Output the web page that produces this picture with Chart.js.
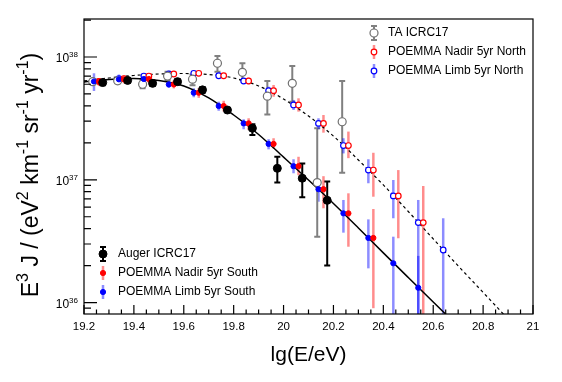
<!DOCTYPE html>
<html>
<head>
<meta charset="utf-8">
<script src="https://cdn.jsdelivr.net/npm/chart.js@4.4.0/dist/chart.umd.min.js"></script>
<style>
  html, body { margin: 0; padding: 0; background: #fff; }
</style>
</head>
<body>
<canvas id="myChart" width="562" height="382"></canvas>
<script>
// Auger ICRC17
var augerE  = [19.275, 19.375, 19.475, 19.575, 19.675, 19.775, 19.875, 19.975, 20.075, 20.175];
var augerJ  = [6.2e37, 6.45e37, 6.1e37, 6.3e37, 5.4e37, 3.7e37, 2.63e37, 1.24e37, 1.03e37, 6.8e36];
var augerLo = [5.9e37, 6.15e37, 5.8e37, 6.0e37, 5.1e37, 3.55e37, 2.32e37, 9.5e36, 7.2e36, 2.0e36];
var augerHi = [6.5e37, 6.75e37, 6.4e37, 6.6e37, 5.7e37, 3.85e37, 2.83e37, 1.54e37, 1.36e37, 9.7e36];

// TA ICRC17
var taE  = [19.235, 19.335, 19.435, 19.535, 19.635, 19.735, 19.835, 19.935, 20.035, 20.135, 20.235];
var taJ  = [6.3e37, 6.4e37, 6.0e37, 7.0e37, 6.6e37, 8.9e37, 7.5e37, 4.8e37, 6.1e37, 9.5e36, 2.97e37];
var taLo = [6.0e37, 6.1e37, 5.57e37, 6.5e37, 5.9e37, 7.6e37, 6.5e37, 3.41e37, 4.33e37, 3.44e36, 1.14e37];
var taHi = [6.6e37, 6.7e37, 6.49e37, 7.6e37, 7.2e37, 1.02e38, 8.89e37, 6.38e37, 8.45e37, 2.63e37, 6.38e37];

// POEMMA Limb 5yr South
var limbSE  = [19.24, 19.34, 19.44, 19.54, 19.64, 19.74, 19.84, 19.94, 20.04, 20.14, 20.24, 20.34, 20.44, 20.54];
var limbSJ  = [6.32e37, 6.58e37, 6.62e37, 5.98e37, 5.12e37, 3.99e37, 2.88e37, 1.96e37, 1.29e37, 8.38e36, 5.33e36, 3.36e36, 2.09e36, 1.32e36];
var limbSLo = [5.29e37, 6.0e37, 6.1e37, 5.6e37, 4.7e37, 3.65e37, 2.58e37, 1.77e37, 1.13e37, 6.63e36, 3.71e36, 1.9e36, 5e35, 5e35];
var limbSHi = [7.37e37, 7.2e37, 7.2e37, 6.4e37, 5.56e37, 4.33e37, 3.11e37, 2.14e37, 1.47e37, 8.79e36, 6.85e36, 4.76e36, 3.44e36, 2.4e36];

// POEMMA Nadir 5yr South
var nadirSE  = [19.26, 19.36, 19.46, 19.56, 19.66, 19.76, 19.86, 19.96, 20.06, 20.16, 20.26, 20.36];
var nadirSJ  = [6.32e37, 6.58e37, 6.62e37, 5.98e37, 5.12e37, 3.99e37, 2.88e37, 1.96e37, 1.29e37, 8.38e36, 5.33e36, 3.36e36];
var nadirSLo = [5.8e37, 6.1e37, 6.15e37, 5.55e37, 4.65e37, 3.6e37, 2.54e37, 1.8e37, 1.09e37, 5.86e36, 2.85e36, 9.0e35];
var nadirSHi = [6.75e37, 7.1e37, 7.1e37, 6.45e37, 5.6e37, 4.4e37, 3.17e37, 2.18e37, 1.54e37, 1.07e37, 7.76e36, 5.78e36];

// POEMMA Limb 5yr North
var limbNE  = [19.24, 19.34, 19.44, 19.54, 19.64, 19.74, 19.84, 19.94, 20.04, 20.14, 20.24, 20.34, 20.44, 20.54, 20.64];
var limbNJ  = [6.32e37, 6.68e37, 7.0e37, 7.27e37, 7.37e37, 7.04e37, 6.38e37, 5.32e37, 4.07e37, 2.88e37, 1.9e37, 1.2e37, 7.39e36, 4.48e36, 2.68e36];
var limbNLo = [6.0e37, 6.4e37, 6.75e37, 7.0e37, 7.1e37, 6.75e37, 6.1e37, 4.91e37, 3.7e37, 2.58e37, 1.64e37, 9.37e36, 4.86e36, 5e35, 5e35];
var limbNHi = [6.65e37, 6.95e37, 7.25e37, 7.55e37, 7.65e37, 7.35e37, 6.7e37, 5.73e37, 4.47e37, 3.17e37, 2.18e37, 1.47e37, 9.96e36, 6.85e36, 4.86e36];

// POEMMA Nadir 5yr North
var nadirNE  = [19.26, 19.36, 19.46, 19.56, 19.66, 19.76, 19.86, 19.96, 20.06, 20.16, 20.26, 20.36, 20.46, 20.56];
var nadirNJ  = [6.32e37, 6.68e37, 7.0e37, 7.27e37, 7.37e37, 7.04e37, 6.38e37, 5.32e37, 4.07e37, 2.88e37, 1.9e37, 1.2e37, 7.39e36, 4.48e36];
var nadirNLo = [6.0e37, 6.35e37, 6.7e37, 6.95e37, 7.05e37, 6.7e37, 6.0e37, 4.75e37, 3.59e37, 2.42e37, 1.5e37, 7.28e36, 3.34e36, 5e35];
var nadirNHi = [6.65e37, 7.0e37, 7.3e37, 7.6e37, 7.7e37, 7.4e37, 6.8e37, 5.92e37, 4.61e37, 3.37e37, 2.47e37, 1.66e37, 1.2e37, 8.9e36];

// fit curves
var southFitE = [19.2, 19.3, 19.4, 19.5, 19.6, 19.7, 19.8, 19.9, 20.0, 20.1, 20.2, 20.3, 20.4, 20.5, 20.6, 20.7];
var southFit  = [6.26e37, 6.56e37, 6.68e37, 6.44e37, 5.81e37, 4.64e37, 3.37e37, 2.34e37, 1.53e37, 9.96e36, 6.41e36, 4.05e36, 2.54e36, 1.6e36, 1.01e36, 6.4e35];
var northFitE = [19.2, 19.3, 19.4, 19.5, 19.6, 19.7, 19.8, 19.9, 20.0, 20.1, 20.2, 20.3, 20.4, 20.5, 20.6, 20.7, 20.8, 20.9];
var northFit  = [6.38e37, 6.75e37, 7.07e37, 7.27e37, 7.34e37, 7.2e37, 6.75e37, 5.81e37, 4.55e37, 3.31e37, 2.27e37, 1.45e37, 9.08e36, 5.52e36, 3.3e36, 1.99e36, 1.21e36, 7.35e35];

// axes
var xTicks = [19.2, 19.4, 19.6, 19.8, 20, 20.2, 20.4, 20.6, 20.8, 21];
var yTicks = [1e36, 1e37, 1e38];
var yTickExp = ['36', '37', '38'];
var xTitle = 'lg(E/eV)';
var yTitle = [['E', 0], ['3', 1], [' J / (eV', 0], ['2', 1], [' km', 0], ['-1', 1], [' sr', 0], ['-1', 1], [' yr', 0], ['-1', 1], [')', 0]];

var FONT = "'Liberation Sans', Arial, Helvetica, sans-serif";

function pts(xs, ys) {
  return xs.map(function (x, i) { return { x: x, y: ys[i] }; });
}

var datasets = [
  { label: 'Auger ICRC17', data: pts(augerE, augerJ), errLo: augerLo, errHi: augerHi,
    errColor: '#000', errWidth: 2, capWidth: 6, legend: 'south',
    pointRadius: 4, pointBackgroundColor: '#000', pointBorderColor: '#000', pointBorderWidth: 1, showLine: false },
  { label: 'POEMMA Nadir 5yr South', data: pts(nadirSE, nadirSJ), errLo: nadirSLo, errHi: nadirSHi,
    errColor: 'rgba(255,0,0,0.45)', errWidth: 2.5, legend: 'south',
    pointRadius: 2.6, pointBackgroundColor: '#ff0000', pointBorderColor: '#ff0000', pointBorderWidth: 1, showLine: false },
  { label: 'POEMMA Limb 5yr South', data: pts(limbSE, limbSJ), errLo: limbSLo, errHi: limbSHi,
    errColor: 'rgba(0,0,255,0.45)', errWidth: 2.5, legend: 'south',
    pointRadius: 2.6, pointBackgroundColor: '#0000ff', pointBorderColor: '#0000ff', pointBorderWidth: 1, showLine: false },
  { label: 'TA ICRC17', data: pts(taE, taJ), errLo: taLo, errHi: taHi,
    errColor: '#808080', errWidth: 2, capWidth: 6, legend: 'north',
    pointRadius: 4, pointBackgroundColor: '#fff', pointBorderColor: '#707070', pointBorderWidth: 1.2, showLine: false },
  { label: 'POEMMA Nadir 5yr North', data: pts(nadirNE, nadirNJ), errLo: nadirNLo, errHi: nadirNHi,
    errColor: 'rgba(255,0,0,0.45)', errWidth: 2.5, legend: 'north',
    pointRadius: 2.8, pointBackgroundColor: '#fff', pointBorderColor: '#ff0000', pointBorderWidth: 1.2, showLine: false },
  { label: 'POEMMA Limb 5yr North', data: pts(limbNE, limbNJ), errLo: limbNLo, errHi: limbNHi,
    errColor: 'rgba(0,0,255,0.45)', errWidth: 2.5, legend: 'north',
    pointRadius: 2.8, pointBackgroundColor: '#fff', pointBorderColor: '#0000ff', pointBorderWidth: 1.2, showLine: false },
  { label: 'south fit', data: pts(southFitE, southFit), showLine: true, pointRadius: 0,
    borderColor: '#000', borderWidth: 1.5, cubicInterpolationMode: 'monotone' },
  { label: 'north fit', data: pts(northFitE, northFit), showLine: true, pointRadius: 0,
    borderColor: '#000', borderWidth: 1.2, borderDash: [3, 3], cubicInterpolationMode: 'monotone' }
];

// error bars drawn under the markers
var errorBars = {
  id: 'errorBars',
  beforeDatasetsDraw: function (chart) {
    var ctx = chart.ctx, a = chart.chartArea;
    var xs = chart.scales.x, ys = chart.scales.y;
    ctx.save();
    ctx.beginPath();
    ctx.rect(a.left, a.top, a.right - a.left, a.bottom - a.top);
    ctx.clip();
    chart.data.datasets.forEach(function (ds) {
      if (!ds.errLo) return;
      ctx.strokeStyle = ds.errColor;
      ctx.lineWidth = ds.errWidth;
      ds.data.forEach(function (p, i) {
        var px = xs.getPixelForValue(p.x);
        var y1 = ys.getPixelForValue(ds.errLo[i]);
        var y2 = ys.getPixelForValue(ds.errHi[i]);
        ctx.beginPath();
        ctx.moveTo(px, y1); ctx.lineTo(px, y2);
        if (ds.capWidth) {
          ctx.moveTo(px - ds.capWidth / 2, y1); ctx.lineTo(px + ds.capWidth / 2, y1);
          ctx.moveTo(px - ds.capWidth / 2, y2); ctx.lineTo(px + ds.capWidth / 2, y2);
        }
        ctx.stroke();
      });
    });
    ctx.restore();
  }
};

function drawSup(ctx, segs, x, y, size, measureOnly) {
  var w = 0;
  segs.forEach(function (s) {
    var sup = s[1] === 1;
    ctx.font = (sup ? Math.round(size * 0.7) : size) + 'px ' + FONT;
    if (!measureOnly) ctx.fillText(s[0], x + w, sup ? y - size * 0.42 : y);
    w += ctx.measureText(s[0]).width;
  });
  return w;
}

// ROOT-like frame, inner ticks, labels, titles and legends
var frame = {
  id: 'frame',
  afterDraw: function (chart) {
    var ctx = chart.ctx, a = chart.chartArea;
    var xs = chart.scales.x, ys = chart.scales.y;
    ctx.save();
    ctx.strokeStyle = '#000';
    ctx.lineWidth = 1.2;
    ctx.strokeRect(a.left, a.top, a.right - a.left, a.bottom - a.top);

    ctx.beginPath();
    for (var i = 0; i <= 36; i++) {
      var v = 19.2 + i * 0.05;
      var px = xs.getPixelForValue(v);
      var len = (i % 4 === 0) ? 9 : 4.5;
      ctx.moveTo(px, a.bottom); ctx.lineTo(px, a.bottom - len);
    }
    for (var d = 35; d <= 38; d++) {
      for (var m = 1; m <= 9; m++) {
        var val = m * Math.pow(10, d);
        if (val < ys.min || val > ys.max) continue;
        var py = ys.getPixelForValue(val);
        ctx.moveTo(a.left, py); ctx.lineTo(a.left + (m === 1 ? 13 : 7), py);
      }
    }
    ctx.stroke();

    // y tick labels 10^n
    ctx.fillStyle = '#000';
    ctx.textBaseline = 'alphabetic';
    yTicks.forEach(function (t, k) {
      var py = ys.getPixelForValue(t);
      var segs = [['10', 0], [yTickExp[k], 1]];
      var w = drawSup(ctx, segs, 0, 0, 12, true);
      drawSup(ctx, segs, a.left - 6 - w, py + 5, 12);
    });

    // axis titles
    ctx.font = '21px ' + FONT;
    ctx.textAlign = 'center';
    ctx.fillText(xTitle, (a.left + a.right) / 2, 361);
    ctx.textAlign = 'left';
    ctx.save();
    ctx.translate(38, 175);
    ctx.rotate(-Math.PI / 2);
    var tw = drawSup(ctx, yTitle, 0, 0, 23, true);
    drawSup(ctx, yTitle, -tw / 2, 0, 23);
    ctx.restore();

    // legends
    function legend(group, mx, tx, y0, dy) {
      var k = 0;
      chart.data.datasets.forEach(function (ds) {
        if (ds.legend !== group) return;
        var y = y0 + k * dy;
        ctx.strokeStyle = ds.errColor;
        ctx.lineWidth = ds.errWidth;
        ctx.beginPath();
        ctx.moveTo(mx, y - 7); ctx.lineTo(mx, y + 7);
        if (ds.capWidth) {
          ctx.moveTo(mx - 3, y - 7); ctx.lineTo(mx + 3, y - 7);
          ctx.moveTo(mx - 3, y + 7); ctx.lineTo(mx + 3, y + 7);
        }
        ctx.stroke();
        ctx.beginPath();
        ctx.arc(mx, y, ds.pointRadius, 0, Math.PI * 2);
        ctx.fillStyle = ds.pointBackgroundColor;
        ctx.fill();
        ctx.lineWidth = ds.pointBorderWidth;
        ctx.strokeStyle = ds.pointBorderColor;
        ctx.stroke();
        ctx.fillStyle = '#000';
        ctx.font = '12px ' + FONT;
        ctx.textBaseline = 'middle';
        ctx.fillText(ds.label, tx, y);
        k++;
      });
    }
    legend('north', 374, 388, 33, 19);
    legend('south', 103, 118, 254, 19);
    ctx.restore();
  }
};

var ctx = document.getElementById('myChart').getContext('2d');
var chart = new Chart(ctx, {
  type: 'scatter',
  data: { datasets: datasets },
  options: {
    responsive: false,
    animation: false,
    devicePixelRatio: 1,
    events: [],
    layout: { padding: { top: 19, right: 29, left: 0, bottom: 0 } },
    plugins: { legend: { display: false }, tooltip: { enabled: false } },
    scales: {
      x: {
        type: 'linear',
        min: 19.2, max: 21,
        grid: { display: false, drawTicks: false },
        border: { display: false },
        afterBuildTicks: function (s) { s.ticks = xTicks.map(function (v) { return { value: v }; }); },
        afterFit: function (s) { s.height = 68; },
        ticks: {
          padding: 6, color: '#000', maxRotation: 0, autoSkip: false,
          font: { family: FONT, size: 11.5 },
          callback: function (v) { return String(v); }
        }
      },
      y: {
        type: 'logarithmic',
        min: 8.07e35, max: 2.04e38,
        grid: { display: false, drawTicks: false },
        border: { display: false },
        afterFit: function (s) { s.width = 84; },
        ticks: { display: false }
      }
    }
  },
  plugins: [errorBars, frame]
});
</script>
</body>
</html>
